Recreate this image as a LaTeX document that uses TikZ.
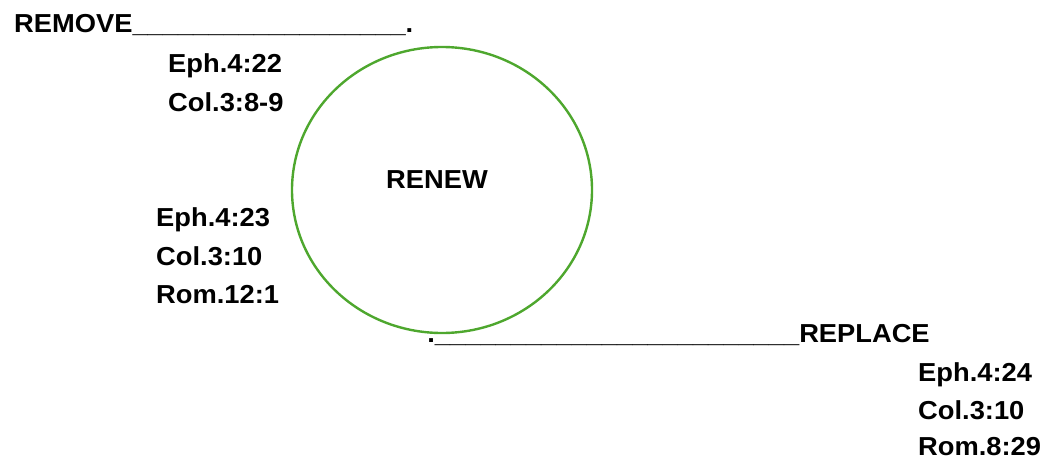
\documentclass[tikz,border=0pt]{standalone}
\usepackage{fontspec}
\setmainfont{Liberation Sans}[FakeStretch=1.05]
\definecolor{ringgreen}{RGB}{78,167,46}
\tikzset{
  lbl/.style={inner sep=0pt, anchor=base west, font=\fontsize{26}{30}\selectfont\bfseries},
  ring/.style={draw=ringgreen, line width=2.4pt}
}
\begin{document}
\begin{tikzpicture}[x=1pt,y=-1pt]
\useasboundingbox (0,0) rectangle (1050,460);
\draw[ring] (442,190) ellipse [x radius=150, y radius=143];
\node[lbl] (remove) at (14,33) {REMOVE\_\_\_\_\_\_\_\_\_\_\_\_\_\_\_\_\_\_.};
\node[lbl] (e422) at (168,73) {Eph.4:22};
\node[lbl] (c389) at (168,111) {Col.3:8-9};
\node[lbl, anchor=base] (renew) at (437,188) {RENEW};
\node[lbl] (e423) at (156,226) {Eph.4:23};
\node[lbl] (c310a) at (156,265) {Col.3:10};
\node[lbl] (r121) at (156,303) {Rom.12:1};
\node[lbl, anchor=base east] (replace) at (930,342) {.\_\_\_\_\_\_\_\_\_\_\_\_\_\_\_\_\_\_\_\_\_\_\_\_REPLACE};
\node[lbl] (e424) at (918,381) {Eph.4:24};
\node[lbl] (c310b) at (918,419) {Col.3:10};
\node[lbl] (r829) at (918,455) {Rom.8:29};
\end{tikzpicture}
\end{document}
